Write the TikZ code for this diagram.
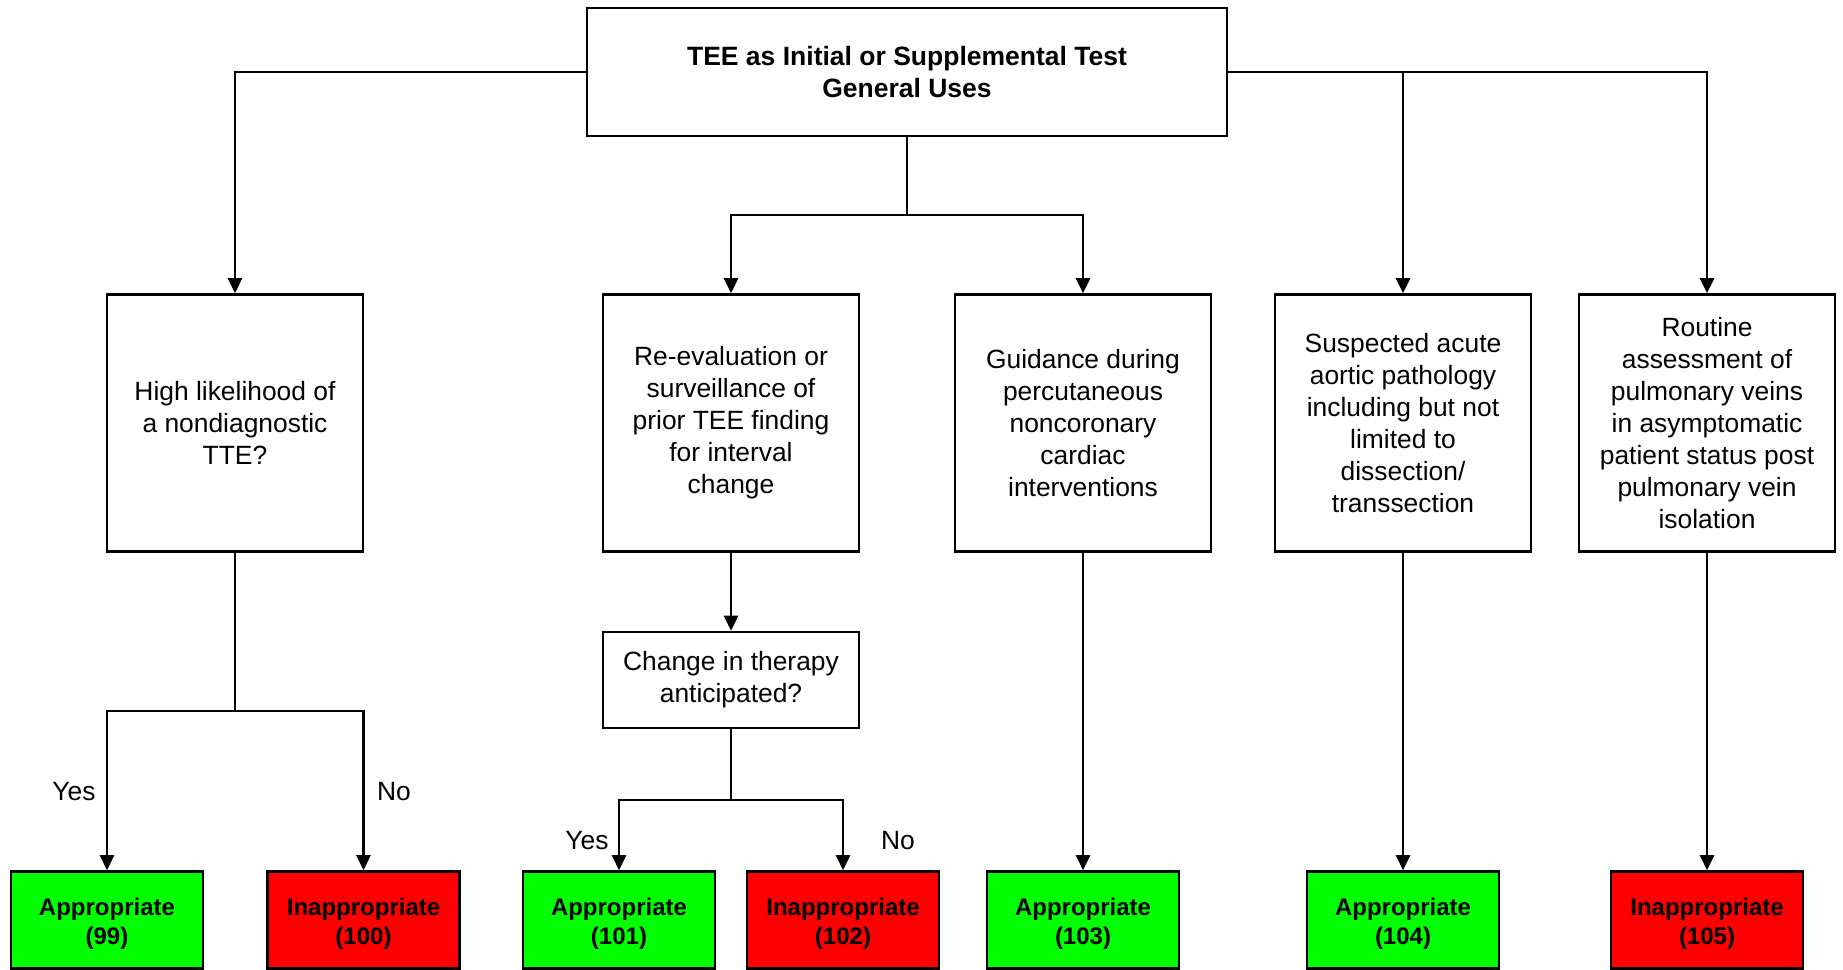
\documentclass[tikz,border=0pt]{standalone}
\usepackage{fontspec}
\setmainfont{Liberation Sans}
\usetikzlibrary{arrows.meta}
\definecolor{okgreen}{RGB}{0,255,0}
\definecolor{badred}{RGB}{255,0,0}
% taller first line so the rating text sits a little lower in its box
\newcommand\leafup{\rule{0pt}{25pt}}
\begin{document}
\begin{tikzpicture}[x=1pt,y=-1pt,
  every node/.style={inner sep=0pt},
  wire/.style={line width=2.6pt},
  arr/.style={wire,-{Triangle[length=15pt,width=14pt]}},
  headbox/.style={draw,line width=2.6pt,minimum width=640pt,minimum height=128pt,align=center,
    font=\bfseries\fontsize{26.5}{32}\selectfont},
  qbox/.style={draw,line width=2.6pt,minimum width=256pt,minimum height=257pt,align=center,
    font=\fontsize{26.4}{32}\selectfont},
  askbox/.style={draw,line width=2.6pt,minimum width=256pt,minimum height=96pt,align=center,
    font=\fontsize{26.4}{32}\selectfont},
  leaf/.style={draw,line width=2.6pt,minimum width=192pt,minimum height=97pt,align=center,
    font=\bfseries\fontsize{24}{29}\selectfont},
  good/.style={leaf,fill=okgreen},
  bad/.style={leaf,fill=badred},
  lbl/.style={font=\fontsize{26.4}{32}\selectfont}]
\useasboundingbox (0,0) rectangle (1843,969);

% heading
\node[headbox] (top) at (907,72) {TEE as Initial or Supplemental Test\\General Uses};

% indication boxes
\node[qbox] (b1) at (235,423) {High likelihood of\\a nondiagnostic\\TTE?};
\node[qbox] (b2) at (731,423) {Re-evaluation or\\surveillance of\\prior TEE finding\\for interval\\change};
\node[qbox] (b3) at (1083,423) {Guidance during\\percutaneous\\noncoronary\\cardiac\\interventions};
\node[qbox] (b4) at (1403,423) {Suspected acute\\aortic pathology\\including but not\\limited to\\dissection/\\transsection};
\node[qbox] (b5) at (1707,423) {Routine\\assessment of\\pulmonary veins\\in asymptomatic\\patient status post\\pulmonary vein\\isolation};

\node[askbox] (ch) at (731,680) {Change in therapy\\anticipated?};

% ratings
\node[good] (r99)  at (107,920)   {\leafup Appropriate\\(99)};
\node[bad]  (r100) at (363.5,920) {\leafup Inappropriate\\(100)};
\node[good] (r101) at (619,920)   {\leafup Appropriate\\(101)};
\node[bad]  (r102) at (843,920)   {\leafup Inappropriate\\(102)};
\node[good] (r103) at (1083,920)  {\leafup Appropriate\\(103)};
\node[good] (r104) at (1403,920)  {\leafup Appropriate\\(104)};
\node[bad]  (r105) at (1707,920)  {\leafup Inappropriate\\(105)};

% branch points
\coordinate (j1) at (907,215);
\coordinate (j2) at (235,711);
\coordinate (j3) at (731,800);

% connectors from the heading
\draw[arr] (top.west) -| (b1.north);
\draw[arr] (top.east) -| (b5.north);
\draw[arr] (top.east -| b4.north) -- (b4.north);
\draw[wire] (top.south) -- (j1);
\draw[arr] (j1) -| (b2.north);
\draw[arr] (j1) -| (b3.north);

% first column
\draw[wire] (b1.south) -- (j2);
\draw[arr] (j2) -| (r99.north);
\draw[arr] (j2) -| (r100.north);

% second column
\draw[arr] (b2.south) -- (ch.north);
\draw[wire] (ch.south) -- (j3);
\draw[arr] (j3) -| (r101.north);
\draw[arr] (j3) -| (r102.north);

% remaining columns
\draw[arr] (b3.south) -- (r103.north);
\draw[arr] (b4.south) -- (r104.north);
\draw[arr] (b5.south) -- (r105.north);

% branch labels
\node[lbl] (y1) at (74,792) {Yes};
\node[lbl] (n1) at (394,792) {No};
\node[lbl] (y2) at (587,841) {Yes};
\node[lbl] (n2) at (898,841) {No};
\end{tikzpicture}
\end{document}
